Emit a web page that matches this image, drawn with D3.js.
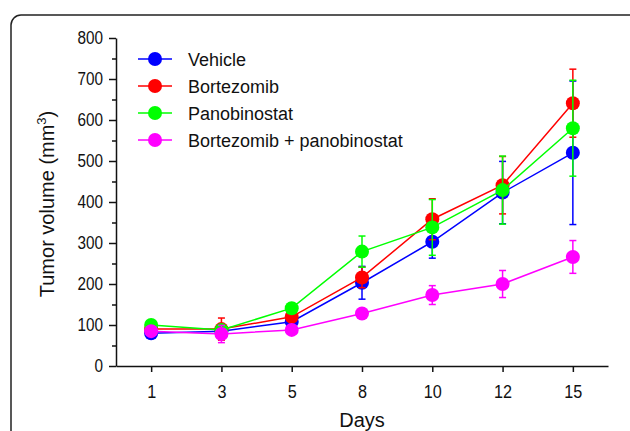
<!DOCTYPE html>
<html>
<head>
<meta charset="utf-8">
<script src="https://cdn.jsdelivr.net/npm/d3@7"></script>
<style>
  body { margin: 0; background: #fff; }
  text { font-family: "Liberation Sans", Arial, sans-serif; fill: #111; }
</style>
</head>
<body>
<div id="chart"></div>
<script>
// days on the x axis (categorical)
var days = ["1", "3", "5", "8", "10", "12", "15"];
var yTicks = [0, 100, 200, 300, 400, 500, 600, 700, 800];

// mean tumor volume per group
var vehicle = [80, 85, 108, 203, 303, 423, 520];
var bortezomib = [90, 90, 120, 216, 358, 441, 641];
var panobinostat = [100, 88, 141, 279, 338, 429, 580];
var combo = [85, 78, 88, 128, 173, 200, 266];

// error (+/-)
var vehicleErr = [10, 8, 10, 40, 40, 76, 175];
var bortezomibErr = [8, 27, 12, 25, 50, 70, 83];
var panobinostatErr = [8, 8, 12, 38, 68, 83, 117];
var comboErr = [8, 21, 8, 8, 23, 33, 40];

var names = ["Vehicle", "Bortezomib", "Panobinostat", "Bortezomib + panobinostat"];
var colors = ["#0000ff", "#ff0000", "#00ff00", "#ff00ff"];

var series = [
  { name: names[0], color: colors[0], vals: vehicle, err: vehicleErr },
  { name: names[1], color: colors[1], vals: bortezomib, err: bortezomibErr },
  { name: names[2], color: colors[2], vals: panobinostat, err: panobinostatErr },
  { name: names[3], color: colors[3], vals: combo, err: comboErr }
];

var width = 630,
  height = 431;

var svg = d3.select("#chart").append("svg")
  .attr("width", width)
  .attr("height", height);

// rounded frame
svg.append("rect")
  .attr("x", 11).attr("y", 15)
  .attr("width", 630).attr("height", 440)
  .attr("rx", 10).attr("ry", 10)
  .attr("fill", "none")
  .attr("stroke", "#222")
  .attr("stroke-width", 1.5);

var x = d3.scalePoint()
  .domain(days)
  .range([116, 608])
  .padding(0.5);

var y = d3.scaleLinear()
  .domain([0, 800])
  .range([366, 38]);

// narrow the tick digits a bit, like the original gothic font
function squeeze(sel, k) {
  sel.each(function() {
    var w = this.getComputedTextLength();
    d3.select(this).attr("textLength", w * k).attr("lengthAdjust", "spacingAndGlyphs");
  });
}

// y axis
var yAxis = svg.append("g")
  .attr("transform", "translate(116,0)")
  .call(d3.axisLeft(y).tickValues(yTicks).tickSize(7).tickPadding(12 - 7 + 1).tickSizeOuter(0));
yAxis.selectAll("text").style("font-size", "18px").call(squeeze, 0.85);

// minor ticks
svg.append("g")
  .attr("transform", "translate(116,0)")
  .call(d3.axisLeft(y).tickValues(d3.range(50, 800, 100)).tickSize(4).tickFormat("").tickSizeOuter(0))
  .select(".domain").remove();

// x axis
var xAxis = svg.append("g")
  .attr("transform", "translate(0,366)")
  .call(d3.axisBottom(x).tickSize(6).tickPadding(13).tickSizeOuter(0));
xAxis.selectAll("text").style("font-size", "18px").call(squeeze, 0.9);

svg.selectAll(".domain, .tick line")
  .attr("stroke", "#111")
  .attr("stroke-width", 1.5);

// axis labels
svg.append("text")
  .attr("x", 362).attr("y", 427)
  .attr("text-anchor", "middle")
  .style("font-size", "20px")
  .text("Days");

var yl = svg.append("text")
  .attr("transform", "translate(54,204) rotate(-90)")
  .attr("text-anchor", "middle")
  .style("font-size", "20px");
yl.append("tspan").text("Tumor volume (mm");
yl.append("tspan").attr("dy", -8).style("font-size", "13px").text("3");
yl.append("tspan").attr("dy", 8).text(")");

var line = d3.line()
  .x(function(d, i) { return x(days[i]); })
  .y(function(d) { return y(d); });

series.forEach(function(s) {
  var g = svg.append("g");
  // error bars
  s.vals.forEach(function(v, i) {
    var cx = x(days[i]);
    g.append("line")
      .attr("x1", cx).attr("x2", cx)
      .attr("y1", y(v - s.err[i])).attr("y2", y(v + s.err[i]))
      .attr("stroke", s.color).attr("stroke-width", 1.5);
    [v - s.err[i], v + s.err[i]].forEach(function(e) {
      g.append("line")
        .attr("x1", cx - 3.5).attr("x2", cx + 3.5)
        .attr("y1", y(e)).attr("y2", y(e))
        .attr("stroke", s.color).attr("stroke-width", 1.5);
    });
  });
  g.append("path")
    .datum(s.vals)
    .attr("d", line)
    .attr("fill", "none")
    .attr("stroke", s.color)
    .attr("stroke-width", 1.5);
  g.selectAll("circle")
    .data(s.vals)
    .enter().append("circle")
    .attr("cx", function(d, i) { return x(days[i]); })
    .attr("cy", function(d) { return y(d); })
    .attr("r", 7)
    .attr("fill", s.color);
});

// legend
var legend = svg.append("g");
series.forEach(function(s, i) {
  var ly = 59 + i * 27;
  legend.append("line")
    .attr("x1", 138).attr("x2", 172)
    .attr("y1", ly).attr("y2", ly)
    .attr("stroke", s.color).attr("stroke-width", 1.5);
  legend.append("circle")
    .attr("cx", 155).attr("cy", ly).attr("r", 7)
    .attr("fill", s.color);
  legend.append("text")
    .attr("x", 188).attr("y", ly + 6.5)
    .style("font-size", "18px")
    .text(s.name);
});
</script>
</body>
</html>
